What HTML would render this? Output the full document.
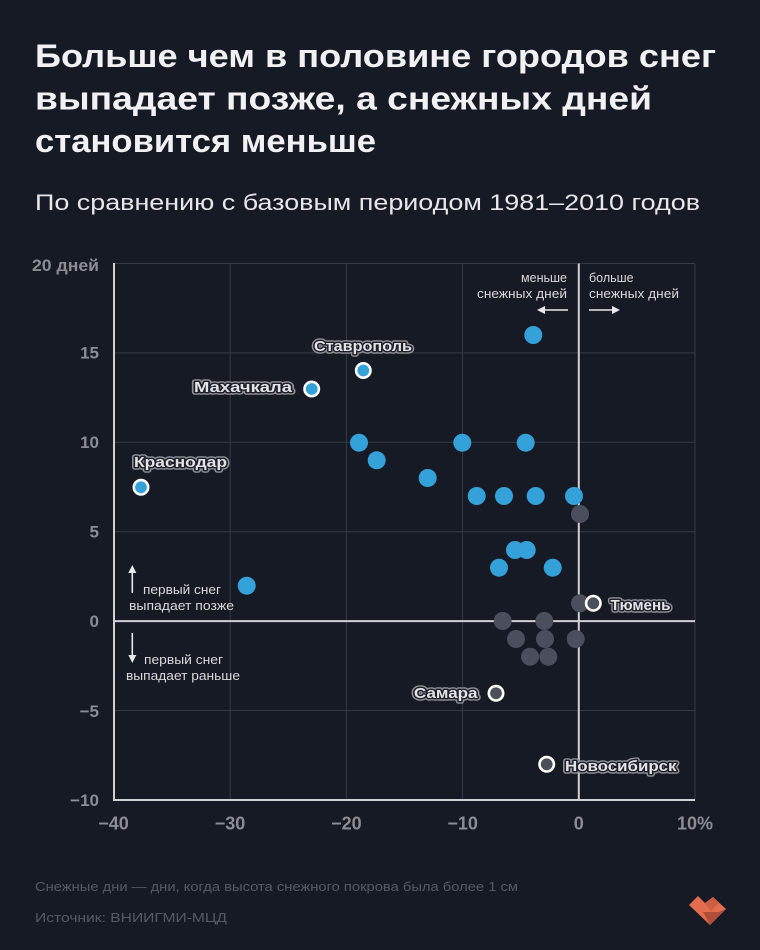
<!DOCTYPE html>
<html><head><meta charset="utf-8"><style>
html,body{margin:0;padding:0;background:#161a25;}
svg{display:block;}
text{font-family:"Liberation Sans","DejaVu Sans",sans-serif;}
</style></head><body>
<svg width="760" height="950" viewBox="0 0 760 950" xmlns="http://www.w3.org/2000/svg">
<rect width="760" height="950" fill="#161a25"/>
<!-- Title -->
<g fill="#f1f1f3" font-weight="bold" font-size="32">
<text x="35" y="67" textLength="681" lengthAdjust="spacingAndGlyphs">Больше чем в половине городов снег</text>
<text x="35" y="109.5" textLength="617" lengthAdjust="spacingAndGlyphs">выпадает позже, а снежных дней</text>
<text x="35" y="152" textLength="341" lengthAdjust="spacingAndGlyphs">становится меньше</text>
</g>
<text x="35" y="210" font-size="22" fill="#e6e7ea" textLength="665" lengthAdjust="spacingAndGlyphs">По сравнению с базовым периодом 1981–2010 годов</text>

<!-- grid -->
<g stroke="#363a46" stroke-width="1" fill="none">
<line x1="230.2" y1="263.5" x2="230.2" y2="800"/>
<line x1="346.4" y1="263.5" x2="346.4" y2="800"/>
<line x1="462.6" y1="263.5" x2="462.6" y2="800"/>
<line x1="695" y1="263.5" x2="695" y2="800"/>
<line x1="114" y1="263.5" x2="695" y2="263.5"/>
<line x1="114" y1="352.9" x2="695" y2="352.9"/>
<line x1="114" y1="442.3" x2="695" y2="442.3"/>
<line x1="114" y1="531.7" x2="695" y2="531.7"/>
<line x1="114" y1="710.5" x2="695" y2="710.5"/>
</g>
<g stroke="#cfd0d4" stroke-width="2" fill="none">
<line x1="114" y1="263" x2="114" y2="801"/>
<line x1="113" y1="800" x2="695" y2="800"/>
<line x1="578.8" y1="263.5" x2="578.8" y2="800"/>
<line x1="114" y1="621.1" x2="695" y2="621.1"/>
</g>

<!-- Y ticks -->
<g fill="#8a8d96" font-weight="bold" font-size="17" text-anchor="end">
<text x="99" y="271" textLength="67" lengthAdjust="spacingAndGlyphs">20 дней</text>
<text x="99" y="358.5">15</text>
<text x="99" y="448">10</text>
<text x="99" y="537.5">5</text>
<text x="99" y="627">0</text>
<text x="99" y="717">−5</text>
<text x="99" y="806">−10</text>
</g>
<!-- X ticks -->
<g fill="#8a8d96" font-weight="bold" font-size="18" text-anchor="middle">
<text x="113.5" y="829.5">−40</text>
<text x="230" y="829.5">−30</text>
<text x="346.4" y="829.5">−20</text>
<text x="462.6" y="829.5">−10</text>
<text x="578.8" y="829.5">0</text>
<text x="695" y="829.5">10%</text>
</g>

<!-- annotations -->
<g fill="#d8d9dd" font-size="12.5">
<text x="567" y="282" text-anchor="end">меньше</text>
<text x="567" y="298" text-anchor="end" textLength="90" lengthAdjust="spacingAndGlyphs">снежных дней</text>
<text x="589" y="282">больше</text>
<text x="589" y="298" textLength="90" lengthAdjust="spacingAndGlyphs">снежных дней</text>
<text x="143" y="594" textLength="78" lengthAdjust="spacingAndGlyphs">первый снег</text>
<text x="129" y="610" textLength="105" lengthAdjust="spacingAndGlyphs">выпадает позже</text>
<text x="144" y="664" textLength="79" lengthAdjust="spacingAndGlyphs">первый снег</text>
<text x="126" y="680" textLength="114" lengthAdjust="spacingAndGlyphs">выпадает раньше</text>
</g>
<g stroke="#e8e9ec" stroke-width="1.6" fill="#e8e9ec">
<line x1="543" y1="310" x2="568" y2="310"/>
<polygon points="537,310 545,306 545,314" stroke="none"/>
<line x1="589" y1="310" x2="614" y2="310"/>
<polygon points="620,310 612,306 612,314" stroke="none"/>
<line x1="132.3" y1="571" x2="132.3" y2="593"/>
<polygon points="132.3,565 128.3,573 136.3,573" stroke="none"/>
<line x1="132.3" y1="633" x2="132.3" y2="656"/>
<polygon points="132.3,663 128.3,655 136.3,655" stroke="none"/>
</g>

<!-- dots: grey -->
<g fill="#4b4f5b">
<circle cx="580" cy="603.3" r="9"/>
<circle cx="502.7" cy="621" r="9"/>
<circle cx="544.3" cy="621" r="9"/>
<circle cx="516" cy="639" r="9"/>
<circle cx="545" cy="639" r="9"/>
<circle cx="575.7" cy="639" r="9"/>
<circle cx="530" cy="656.7" r="9"/>
<circle cx="548.3" cy="656.7" r="9"/>
</g>
<!-- dots: blue -->
<g fill="#34a1d9">
<circle cx="533.3" cy="335" r="9"/>
<circle cx="359" cy="442.7" r="9"/>
<circle cx="376.7" cy="460.3" r="9"/>
<circle cx="427.7" cy="478" r="9"/>
<circle cx="462.3" cy="442.7" r="9"/>
<circle cx="525.7" cy="442.7" r="9"/>
<circle cx="476.7" cy="496" r="9"/>
<circle cx="504" cy="496" r="9"/>
<circle cx="535.7" cy="496" r="9"/>
<circle cx="574" cy="496" r="9"/>
<circle cx="515" cy="550" r="9"/>
<circle cx="526.7" cy="550" r="9"/>
<circle cx="499" cy="567.7" r="9"/>
<circle cx="552.7" cy="567.7" r="9"/>
<circle cx="246.7" cy="585.7" r="9"/>
</g>
<circle cx="580" cy="514" r="9" fill="#4b4f5b"/>
<!-- highlighted -->
<g stroke="#ffffff" stroke-width="2.6">
<circle cx="363.3" cy="370.5" r="7.2" fill="#34a1d9"/>
<circle cx="311.7" cy="389" r="7.2" fill="#34a1d9"/>
<circle cx="141" cy="487.3" r="7.2" fill="#34a1d9"/>
<circle cx="593.3" cy="603.3" r="7.2" fill="#4b4f5b"/>
<circle cx="496" cy="693.3" r="7.2" fill="#4b4f5b"/>
<circle cx="546.7" cy="764.3" r="7.2" fill="#4b4f5b"/>
</g>

<!-- city labels -->
<g font-weight="bold" font-size="15" stroke-linejoin="round" lengthAdjust="spacingAndGlyphs">
<g stroke="#8f9197" stroke-width="5.5" fill="#8f9197">
<text x="134" y="467" textLength="93" lengthAdjust="spacingAndGlyphs">Краснодар</text>
<text x="194" y="392" textLength="98" lengthAdjust="spacingAndGlyphs">Махачкала</text>
<text x="314" y="351" textLength="98" lengthAdjust="spacingAndGlyphs">Ставрополь</text>
<text x="610.5" y="610" textLength="60" lengthAdjust="spacingAndGlyphs">Тюмень</text>
<text x="414" y="698" textLength="63.5" lengthAdjust="spacingAndGlyphs">Самара</text>
<text x="565" y="771" textLength="111.5" lengthAdjust="spacingAndGlyphs">Новосибирск</text>
</g>
<g stroke="#1c1f29" stroke-width="2.8" fill="#1c1f29">
<text x="134" y="467" textLength="93" lengthAdjust="spacingAndGlyphs">Краснодар</text>
<text x="194" y="392" textLength="98" lengthAdjust="spacingAndGlyphs">Махачкала</text>
<text x="314" y="351" textLength="98" lengthAdjust="spacingAndGlyphs">Ставрополь</text>
<text x="610.5" y="610" textLength="60" lengthAdjust="spacingAndGlyphs">Тюмень</text>
<text x="414" y="698" textLength="63.5" lengthAdjust="spacingAndGlyphs">Самара</text>
<text x="565" y="771" textLength="111.5" lengthAdjust="spacingAndGlyphs">Новосибирск</text>
</g>
<g fill="#e4e4e6">
<text x="134" y="467" textLength="93" lengthAdjust="spacingAndGlyphs">Краснодар</text>
<text x="194" y="392" textLength="98" lengthAdjust="spacingAndGlyphs">Махачкала</text>
<text x="314" y="351" textLength="98" lengthAdjust="spacingAndGlyphs">Ставрополь</text>
<text x="610.5" y="610" textLength="60" lengthAdjust="spacingAndGlyphs">Тюмень</text>
<text x="414" y="698" textLength="63.5" lengthAdjust="spacingAndGlyphs">Самара</text>
<text x="565" y="771" textLength="111.5" lengthAdjust="spacingAndGlyphs">Новосибирск</text>
</g>
</g>

<!-- footer -->
<g fill="#565a65" font-size="13">
<text x="35" y="891" textLength="483" lengthAdjust="spacingAndGlyphs">Снежные дни — дни, когда высота снежного покрова была более 1 см</text>
<text x="35" y="922" textLength="192" lengthAdjust="spacingAndGlyphs">Источник: ВНИИГМИ-МЦД</text>
</g>
<!-- logo -->
<polygon points="689,905 698,896 705,903 713,897 726,909 710,925" fill="#e36d4d"/>
<polygon points="705,903 713,897 719,903 711,911" fill="#cf5e43"/>
<polygon points="703,912 719,912 726,909 710,925" fill="#b04d3b"/>
</svg>
</body></html>
